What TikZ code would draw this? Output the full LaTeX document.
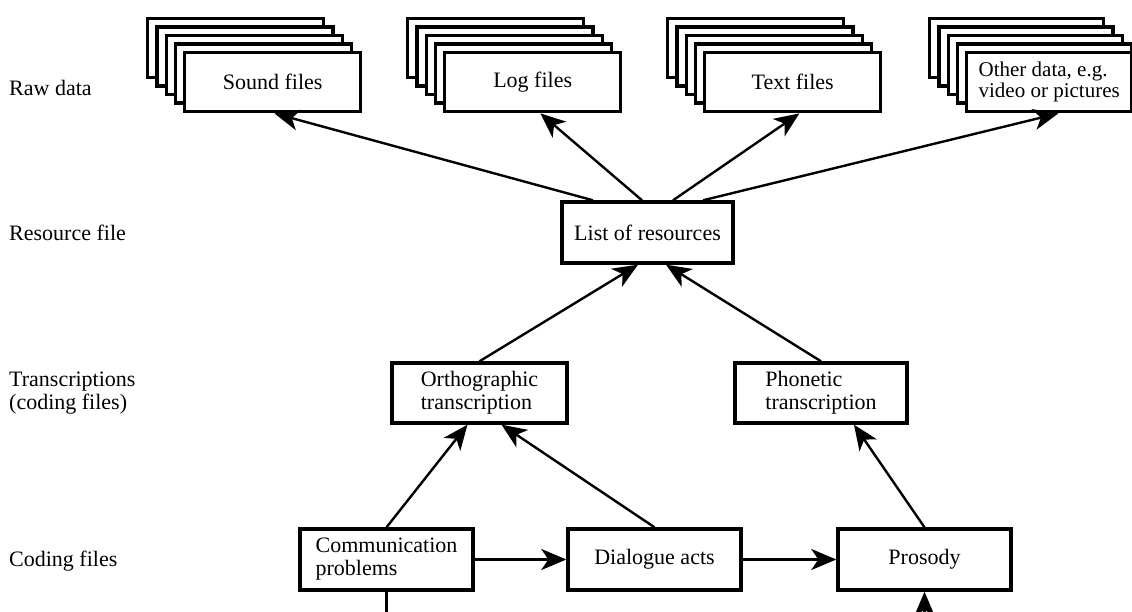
\documentclass[tikz,border=0pt]{standalone}
\usepackage{fontspec}
\setmainfont{Liberation Serif}
\usetikzlibrary{arrows.meta}
\begin{document}
\begin{tikzpicture}[x=1pt,y=-1pt,
  txt/.style={font=\fontsize{22}{23}\selectfont},
  box/.style={draw, line width=3.4pt, fill=white, minimum width=173pt, minimum height=60pt,
    inner sep=0pt, align=left, font=\fontsize{22}{23}\selectfont},
  sbox/.style={box, anchor=north west, minimum width=176pt, minimum height=59pt},
  lab/.style={txt, anchor=west, align=left, inner sep=0pt},
  con/.style={line width=2.4pt},
  arr/.style={con, -{Stealth[length=25pt,width=21pt,inset=7pt]}}
]
\useasboundingbox (0,0) rectangle (1132,612);
\clip (0,0) rectangle (1132,612);
\fill[white] (0,0) rectangle (1132,612);

% left labels
\node[lab] (l1) at (9,88) {Raw data};
\node[lab] (l2) at (9,233) {Resource file};
\node[lab] (l3) at (9,393) {Transcriptions\\(coding files)};
\node[lab] (l4) at (9,561) {Coding files};

% raw data stacks
\foreach \k in {4,3,2,1} {
  \node[sbox] (snd\k) at ({183-9.25*\k},{51-8.5*\k}) {};
  \node[sbox] (lg\k) at ({443-9.25*\k},{51-8.5*\k}) {};
  \node[sbox] (tx\k) at ({703-9.25*\k},{51-8.5*\k}) {};
  \node[sbox, minimum width=174pt] (ot\k) at ({965-9.25*\k},{51-8.5*\k}) {};
}
\node[sbox] (sound) at (183,51) {Sound files};
\node[sbox] (log) at (443,51) {Log files};
\node[sbox] (text) at (703,51) {Text files};
\node[sbox, minimum width=165pt, font=\fontsize{21}{21}\selectfont] (other) at (965,51) {Other data, e.g.\\video or pictures};

% resource file
\node[box, minimum width=171pt, minimum height=61pt] (list) at (647.5,232.5) {List of resources};

% transcriptions
\node[box, minimum width=175pt] (ortho) at (479.5,393) {Orthographic\\transcription};
\node[box, minimum width=172pt] (phon) at (821,393) {Phonetic\\transcription};

% coding files
\node[box, minimum height=61pt] (comm) at (386.5,559.5) {Communication\\problems};
\node[box, minimum height=61pt] (dial) at (654.5,559.5) {Dialogue acts};
\node[box, minimum height=61pt] (pros) at (924.5,559.5) {Prosody};
\coordinate (commout) at (386.5,630);
\coordinate (prosin) at (924.5,630);

% connectors to raw data
\draw[arr] ([xshift=-54.5pt]list.north) -- ([xshift=-88pt]sound.south east);
\draw[arr] ([xshift=-5.5pt]list.north) -- ([xshift=-82pt]log.south east);
\draw[arr] ([xshift=25.5pt]list.north) -- ([xshift=-83pt]text.south east);
\draw[arr] ([xshift=55.5pt]list.north) -- ([xshift=-75pt]other.south east);

% transcriptions to list
\draw[arr] (ortho.north) -- ([xshift=-9.5pt]list.south);
\draw[arr] (phon.north) -- ([xshift=18.5pt]list.south);

% coding files to transcriptions
\draw[arr] (comm.north) -- ([xshift=-12pt]ortho.south);
\draw[arr] (dial.north) -- ([xshift=22pt]ortho.south);
\draw[arr] (pros.north) -- ([xshift=33pt]phon.south);

% horizontal
\draw[arr] (comm.east) -- (dial.west);
\draw[arr] (dial.east) -- (pros.west);

% dangling
\draw[con] (comm.south) -- (commout);
\draw[arr] (prosin) -- (pros.south);
\end{tikzpicture}
\end{document}
